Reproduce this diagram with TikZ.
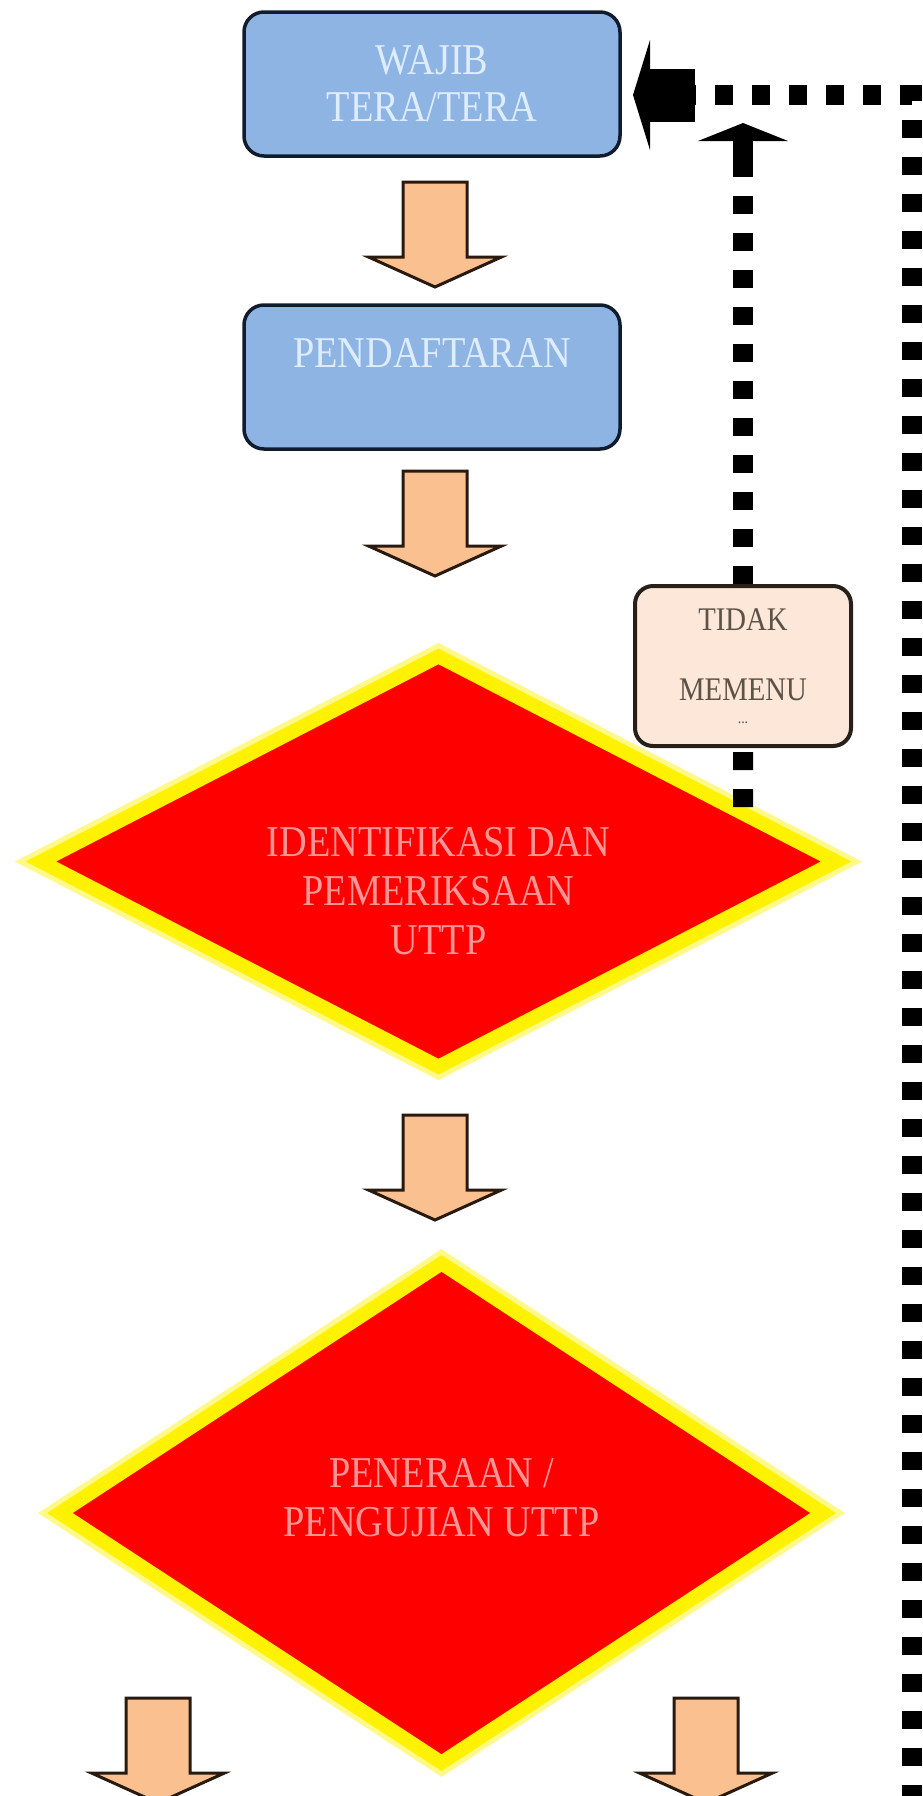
\documentclass[tikz,border=0pt]{standalone}
\usepackage{fontspec}
\setmainfont{Liberation Serif}
\newfontfamily\flowfont[FakeStretch=0.87]{Liberation Serif}
\usetikzlibrary{shapes.geometric, calc, arrows.meta, positioning}

\definecolor{boxblue}{RGB}{142,180,227}
\definecolor{boxline}{RGB}{16,28,44}
\definecolor{boxtext}{RGB}{222,236,255}
\definecolor{peach}{RGB}{250,192,144}
\definecolor{arrowline}{RGB}{40,26,14}
\definecolor{cekred}{RGB}{255,0,0}
\definecolor{cekpink}{RGB}{255,150,150}
\definecolor{notefill}{RGB}{252,231,217}
\definecolor{notedraw}{RGB}{38,32,25}
\definecolor{notetext}{RGB}{92,82,72}

\tikzset{
    stepbox/.style={draw=boxline, line width=3.5pt, fill=boxblue, rounded corners=20pt,
        minimum width=376pt, minimum height=144pt, text=boxtext, align=center,
        font=\flowfont\fontsize{44}{47}\selectfont},
    steplabel/.style={text=boxtext, font=\flowfont\fontsize{44}{47}\selectfont},
    cekdiamond/.style={diamond, draw=yellow, line width=14pt, fill=cekred, inner sep=0pt,
        preaction={draw=yellow!45, line width=24pt}},
    ceklabel/.style={text=cekpink, align=center, font=\flowfont\fontsize{44}{49}\selectfont},
    notebox/.style={draw=notedraw, line width=4pt, fill=notefill, rounded corners=18pt,
        minimum width=216pt, minimum height=160pt, text=notetext, align=center,
        font=\flowfont\fontsize{33}{34}\selectfont},
    blockarrow/.style={draw=arrowline, line width=3pt, fill=peach, line join=miter},
    loopline/.style={draw=black, line width=20pt, dash pattern=on 18pt off 19pt}
}

\begin{document}
\begin{tikzpicture}[x=1pt, y=-1pt]
\useasboundingbox (0,0) rectangle (923,1796);
\clip (0,0) rectangle (923,1796);

% alur utama
\node[stepbox] (wajib) at (432,84) {WAJIB\\TERA/TERA};
\node[stepbox] (daftar) at (432,377) {};
\node[steplabel] (daftar-txt) at ($(daftar.center)+(0,-24)$) {PENDAFTARAN};

\node[cekdiamond, minimum width=801pt, minimum height=416pt] (cek) at (438.5,861.5) {};
\node[ceklabel] (cek-txt) at ($(cek.center)+(0,30)$) {IDENTIFIKASI DAN\\PEMERIKSAAN\\UTTP};

\node[cekdiamond, minimum width=769pt, minimum height=505pt] (uji) at (441.5,1513) {};
\node[ceklabel] (uji-txt) at ($(uji.center)+(0,-15)$) {PENERAAN /\\PENGUJIAN UTTP};

\foreach \ax/\ay in {435/182, 435/471, 435/1115, 158/1698, 706/1698}
{
    \draw[blockarrow] (\ax-32,\ay) -- (\ax+32,\ay) -- (\ax+32,\ay+75) -- (\ax+66.5,\ay+75)
        -- (\ax,\ay+105) -- (\ax-66.5,\ay+75) -- (\ax-32,\ay+75) -- cycle;
}

% jalur kembali
\node[notebox] (tidak) at (743,666) {TIDAK\\[36pt]MEMENU\\[-11pt]{\fontsize{16}{16}\selectfont ...}};
\coordinate (cek-edge) at (intersection of cek.north--cek.east and tidak.south--tidak.north);
\coordinate (naik) at (743,123);
\coordinate (balik) at (633,95);
\coordinate (bawah) at (912,1840);

\draw[loopline] (cek-edge) -- (tidak.south);
\draw[loopline, -{Rectangle[length=25pt,width=20pt,line width=0pt,sep=0pt] Triangle[length=18pt,width=90pt,line width=0pt,sep=0pt]}] (tidak.north) -- (naik);
\draw[loopline, -{Rectangle[length=45pt,width=53pt,line width=0pt,sep=0pt] Triangle[length=17pt,width=110pt,line width=0pt,sep=0pt]}] (bawah) |- (balik);
\end{tikzpicture}
\end{document}
